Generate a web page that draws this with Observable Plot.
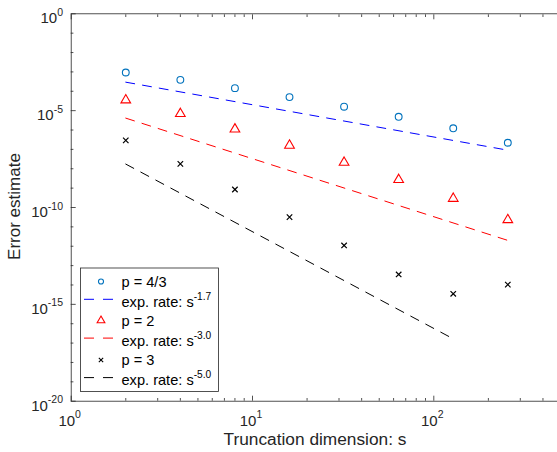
<!DOCTYPE html>
<html><head><meta charset="utf-8">
<script src="https://cdn.jsdelivr.net/npm/d3@7"></script>
<script src="https://cdn.jsdelivr.net/npm/@observablehq/plot@0.6"></script>
<style>
body{margin:0;background:#fff}
#chart{width:557px;height:452px;overflow:hidden}
svg{font-family:"Liberation Sans",Arial,Helvetica,sans-serif}
</style>
</head><body><div id="chart"></div>
<script>
// ---- data ----
const s = [2, 4, 8, 16, 32, 64, 128, 256];
const errP43 = [9.3e-4, 3.9e-4, 1.45e-4, 5.0e-5, 1.6e-5, 4.8e-6, 1.23e-6, 2.2e-7];
const errP2  = [3.5e-5, 6.9e-6, 1.1e-6, 1.6e-7, 2.1e-8, 2.7e-9, 2.9e-10, 2.3e-11];
const errP3  = [2.9e-7, 1.8e-8, 8.5e-10, 3.2e-11, 1.1e-12, 3.5e-14, 3.5e-15, 1.05e-14];
// expected-rate reference lines (end points)
const rateS43 = [2, 256], rateV43 = [2.95e-4, 9.1e-8];
const rateS2  = [2, 256], rateV2  = [4.1e-6, 2.0e-12];
const rateS3  = [2, 128], rateV3  = [1.74e-8, 1.66e-17];
// ticks
const xMajor = [1, 10, 100];
const xMinor = [2,3,4,5,6,7,8,9,20,30,40,50,60,70,80,90,200,300,400,500];
const xTickExp = ["0", "1", "2"];
const yMajor = [1e0, 1e-5, 1e-10, 1e-15, 1e-20];
const yMinor = [1e-1,1e-2,1e-3,1e-4,1e-6,1e-7,1e-8,1e-9,1e-11,1e-12,1e-13,1e-14,1e-16,1e-17,1e-18,1e-19];
const yTickExp = ["0", "-5", "-10", "-15", "-20"];
// legend
const legendLabels = ["p = 4/3", "exp. rate: s", "p = 2", "exp. rate: s", "p = 3", "exp. rate: s"];
const legendExp = [null, "-1.7", null, "-3.0", null, "-5.0"];

const toRows = (xs, ys) => xs.map((x, i) => ({x, y: ys[i]}));
const ax = "#262626";
const dash = "9,8";

const axisCommon = {tickFormat: () => "", label: null, stroke: ax, strokeWidth: 0.8};

const plot = Plot.plot({
  width: 557, height: 452,
  marginLeft: 70.7, marginRight: -4.5, marginTop: 13.3, marginBottom: 51.3,
  style: {background: "white", color: ax, overflow: "hidden"},
  x: {type: "log", domain: [1, Math.pow(10, 2.7071)]},
  y: {type: "log", domain: [1e-20, 1]},
  marks: [
    Plot.axisX(xMajor, {...axisCommon, anchor: "bottom", tickSize: -5}),
    Plot.axisX(xMinor, {...axisCommon, anchor: "bottom", tickSize: -2.7}),
    Plot.axisX(xMajor, {...axisCommon, anchor: "top", tickSize: -5}),
    Plot.axisX(xMinor, {...axisCommon, anchor: "top", tickSize: -2.7}),
    Plot.axisY(yMajor, {...axisCommon, anchor: "left", tickSize: -5}),
    Plot.axisY(yMinor, {...axisCommon, anchor: "left", tickSize: -2.7}),
    Plot.axisY(yMajor, {...axisCommon, anchor: "right", tickSize: -5}),
    Plot.axisY(yMinor, {...axisCommon, anchor: "right", tickSize: -2.7}),
    Plot.frame({stroke: ax, strokeWidth: 0.8}),
    Plot.line(toRows(rateS43, rateV43), {x: "x", y: "y", stroke: "#0000FF", strokeWidth: 1, strokeDasharray: dash}),
    Plot.line(toRows(rateS2, rateV2), {x: "x", y: "y", stroke: "#FF0000", strokeWidth: 1, strokeDasharray: dash}),
    Plot.line(toRows(rateS3, rateV3), {x: "x", y: "y", stroke: "#000000", strokeWidth: 1, strokeDasharray: dash}),
    Plot.dot(toRows(s, errP43), {x: "x", y: "y", r: 3.4, stroke: "#0072BD", strokeWidth: 1.1, fill: "none", symbol: "circle"}),
    Plot.dot(toRows(s, errP2), {x: "x", y: "y", r: 3.6, stroke: "#FF0000", strokeWidth: 1.1, fill: "none", symbol: "triangle"}),
    Plot.dot(toRows(s, errP3), {x: "x", y: "y", r: 2.6, stroke: "#000000", strokeWidth: 1.2, fill: "none", symbol: "times"})
  ]
});

document.getElementById("chart").appendChild(plot);
const svg = d3.select(plot);
const X = plot.scale("x"), Y = plot.scale("y");

// tick labels with superscript exponents
const tl = svg.append("g").attr("fill", ax).attr("font-size", 15);
xMajor.forEach((v, i) => {
  const t = tl.append("text").attr("x", X.apply(v) - 1).attr("y", 425.6).attr("text-anchor", "middle");
  t.append("tspan").text("10");
  t.append("tspan").attr("dy", -7.5).attr("font-size", 10.5).text(xTickExp[i]);
});
yMajor.forEach((v, i) => {
  const t = tl.append("text").attr("x", 63).attr("y", Y.apply(v) + 10).attr("text-anchor", "end");
  t.append("tspan").text("10");
  t.append("tspan").attr("dy", -7.5).attr("font-size", 10.5).text(yTickExp[i]);
});
// axis labels
svg.append("text").attr("x", 315).attr("y", 445).attr("text-anchor", "middle")
  .attr("fill", ax).attr("font-size", 17.3).text("Truncation dimension: s");
svg.append("text").attr("transform", "translate(20,206.5) rotate(-90)").attr("text-anchor", "middle")
  .attr("fill", ax).attr("font-size", 17).text("Error estimate");

// legend
const lg = svg.append("g");
lg.append("rect").attr("x", 80.5).attr("y", 268).attr("width", 138).attr("height", 123.5)
  .attr("fill", "white").attr("stroke", ax).attr("stroke-width", 0.8);
const baselines = [286.5, 306.7, 325.5, 345.5, 365, 385];
const colors = ["#0072BD", "#0000FF", "#FF0000", "#FF0000", "#000000", "#000000"];
legendLabels.forEach((lab, i) => {
  const t = lg.append("text").attr("x", 121.5).attr("y", baselines[i]).attr("text-anchor", "start")
    .attr("fill", "#000").attr("font-size", 14.6);
  t.append("tspan").text(lab);
  if (legendExp[i]) t.append("tspan").attr("dy", -7).attr("font-size", 10.2).text(legendExp[i]);
  const yb = baselines[i];
  if (i % 2 === 1) {
    lg.append("line").attr("x1", 84).attr("x2", 113).attr("y1", yb - 7.4).attr("y2", yb - 7.4)
      .attr("stroke", colors[i]).attr("stroke-width", 1).attr("stroke-dasharray", "10,9");
  }
});
const sym = [d3.symbolCircle, d3.symbolTriangle, d3.symbolTimes];
const symSize = [20, 26, 14];
[0, 2, 4].forEach((row, k) => {
  lg.append("path").attr("d", d3.symbol(sym[k], symSize[k])())
    .attr("transform", `translate(101,${baselines[row] - 5})`)
    .attr("fill", "none").attr("stroke", colors[row]).attr("stroke-width", 1.1);
});
</script>
</body></html>
